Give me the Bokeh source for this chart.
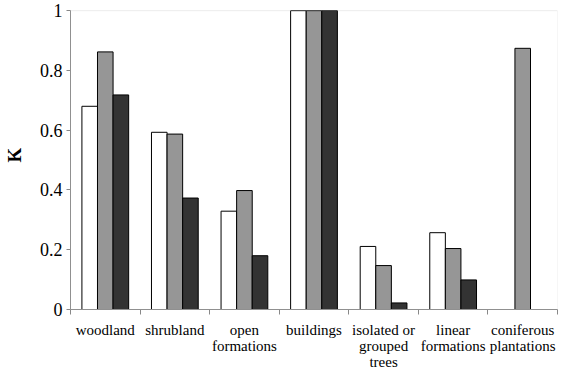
from bokeh.plotting import figure
from bokeh.models import FixedTicker, Range1d, ColumnDataSource, BoxAnnotation
from bokeh.layouts import column
from bokeh.transform import dodge
from bokeh.embed import file_html
from bokeh.resources import INLINE

categories = ["woodland", "shrubland", "open\nformations", "buildings",
              "isolated or\ngrouped\ntrees", "linear\nformations", "coniferous\nplantations"]
series_a = [0.680, 0.593, 0.329, 1.0, 0.211, 0.257, 0.0]
series_b = [0.862, 0.587, 0.398, 1.0, 0.147, 0.204, 0.874]
series_c = [0.718, 0.373, 0.180, 1.0, 0.022, 0.099, 0.0]
y_ticks = [0, 0.2, 0.4, 0.6, 0.8, 1]
y_tick_labels = ["0", "0.2", "0.4", "0.6", "0.8", "1"]
y_max = 1.0
y_headroom = 0.034   # blank strip above the plot box, so the top tick label is not cut

centers = [i + 0.5 for i in range(len(categories))]
font = "Times"

p = figure(width=561, height=372, output_backend="svg", toolbar_location=None,
           x_range=Range1d(0, len(categories)), y_range=Range1d(0, y_max + y_headroom),
           min_border_left=65, min_border_top=0, min_border_right=4, min_border_bottom=53)
p.background_fill_color = "white"
p.border_fill_color = "white"
p.outline_line_color = None
p.xgrid.visible = False
p.ygrid.visible = False

# light grey plot box ending at K = 1
p.add_layout(BoxAnnotation(left=0, right=len(categories), bottom=0, top=y_max,
                           fill_color=None, line_color="#c0c0c0", line_width=1))

bw = 0.224
for vals, off, col in [(series_a, -bw, "white"), (series_b, 0.0, "#969696"), (series_c, bw, "#333333")]:
    xs = [c for c, v in zip(centers, vals) if v > 0]
    ys = [v for v in vals if v > 0]
    src = ColumnDataSource(dict(x=xs, top=ys))
    p.vbar(x=dodge("x", off, range=p.x_range), top="top", bottom=0, width=bw, source=src,
           fill_color=col, line_color="black", line_width=1)

xa = p.below[0]
xa.ticker = FixedTicker(ticks=centers, minor_ticks=list(range(len(categories) + 1)))
xa.major_label_overrides = {c: lab for c, lab in zip(centers, categories)}
xa.major_tick_line_color = None
xa.major_tick_out = 0
xa.major_tick_in = 0
xa.minor_tick_in = 0
xa.minor_tick_out = 5
xa.minor_tick_line_color = "#888888"
xa.axis_line_color = "#888888"
xa.major_label_text_font = font
xa.major_label_text_font_size = "15px"
xa.major_label_text_color = "black"
xa.major_label_text_line_height = 1.0
xa.major_label_standoff = 7

ya = p.left[0]
ya.ticker = FixedTicker(ticks=y_ticks, minor_ticks=[])
ya.bounds = (0, y_max)
ya.major_label_overrides = {t: lab for t, lab in zip(y_ticks, y_tick_labels)}
ya.major_tick_in = 0
ya.major_tick_out = 4
ya.major_tick_line_color = "#888888"
ya.axis_line_color = "#888888"
ya.minor_tick_line_color = None
ya.major_label_text_font = font
ya.major_label_text_font_size = "18px"
ya.major_label_text_color = "black"
ya.major_label_standoff = 4
ya.axis_label = "K"
ya.axis_label_text_font = "Liberation Serif"
ya.axis_label_text_font_style = "bold"
ya.axis_label_text_font_size = "19px"
ya.axis_label_text_color = "black"
ya.axis_label_standoff = 12

open("out.html", "w").write(file_html(column(p), INLINE))
